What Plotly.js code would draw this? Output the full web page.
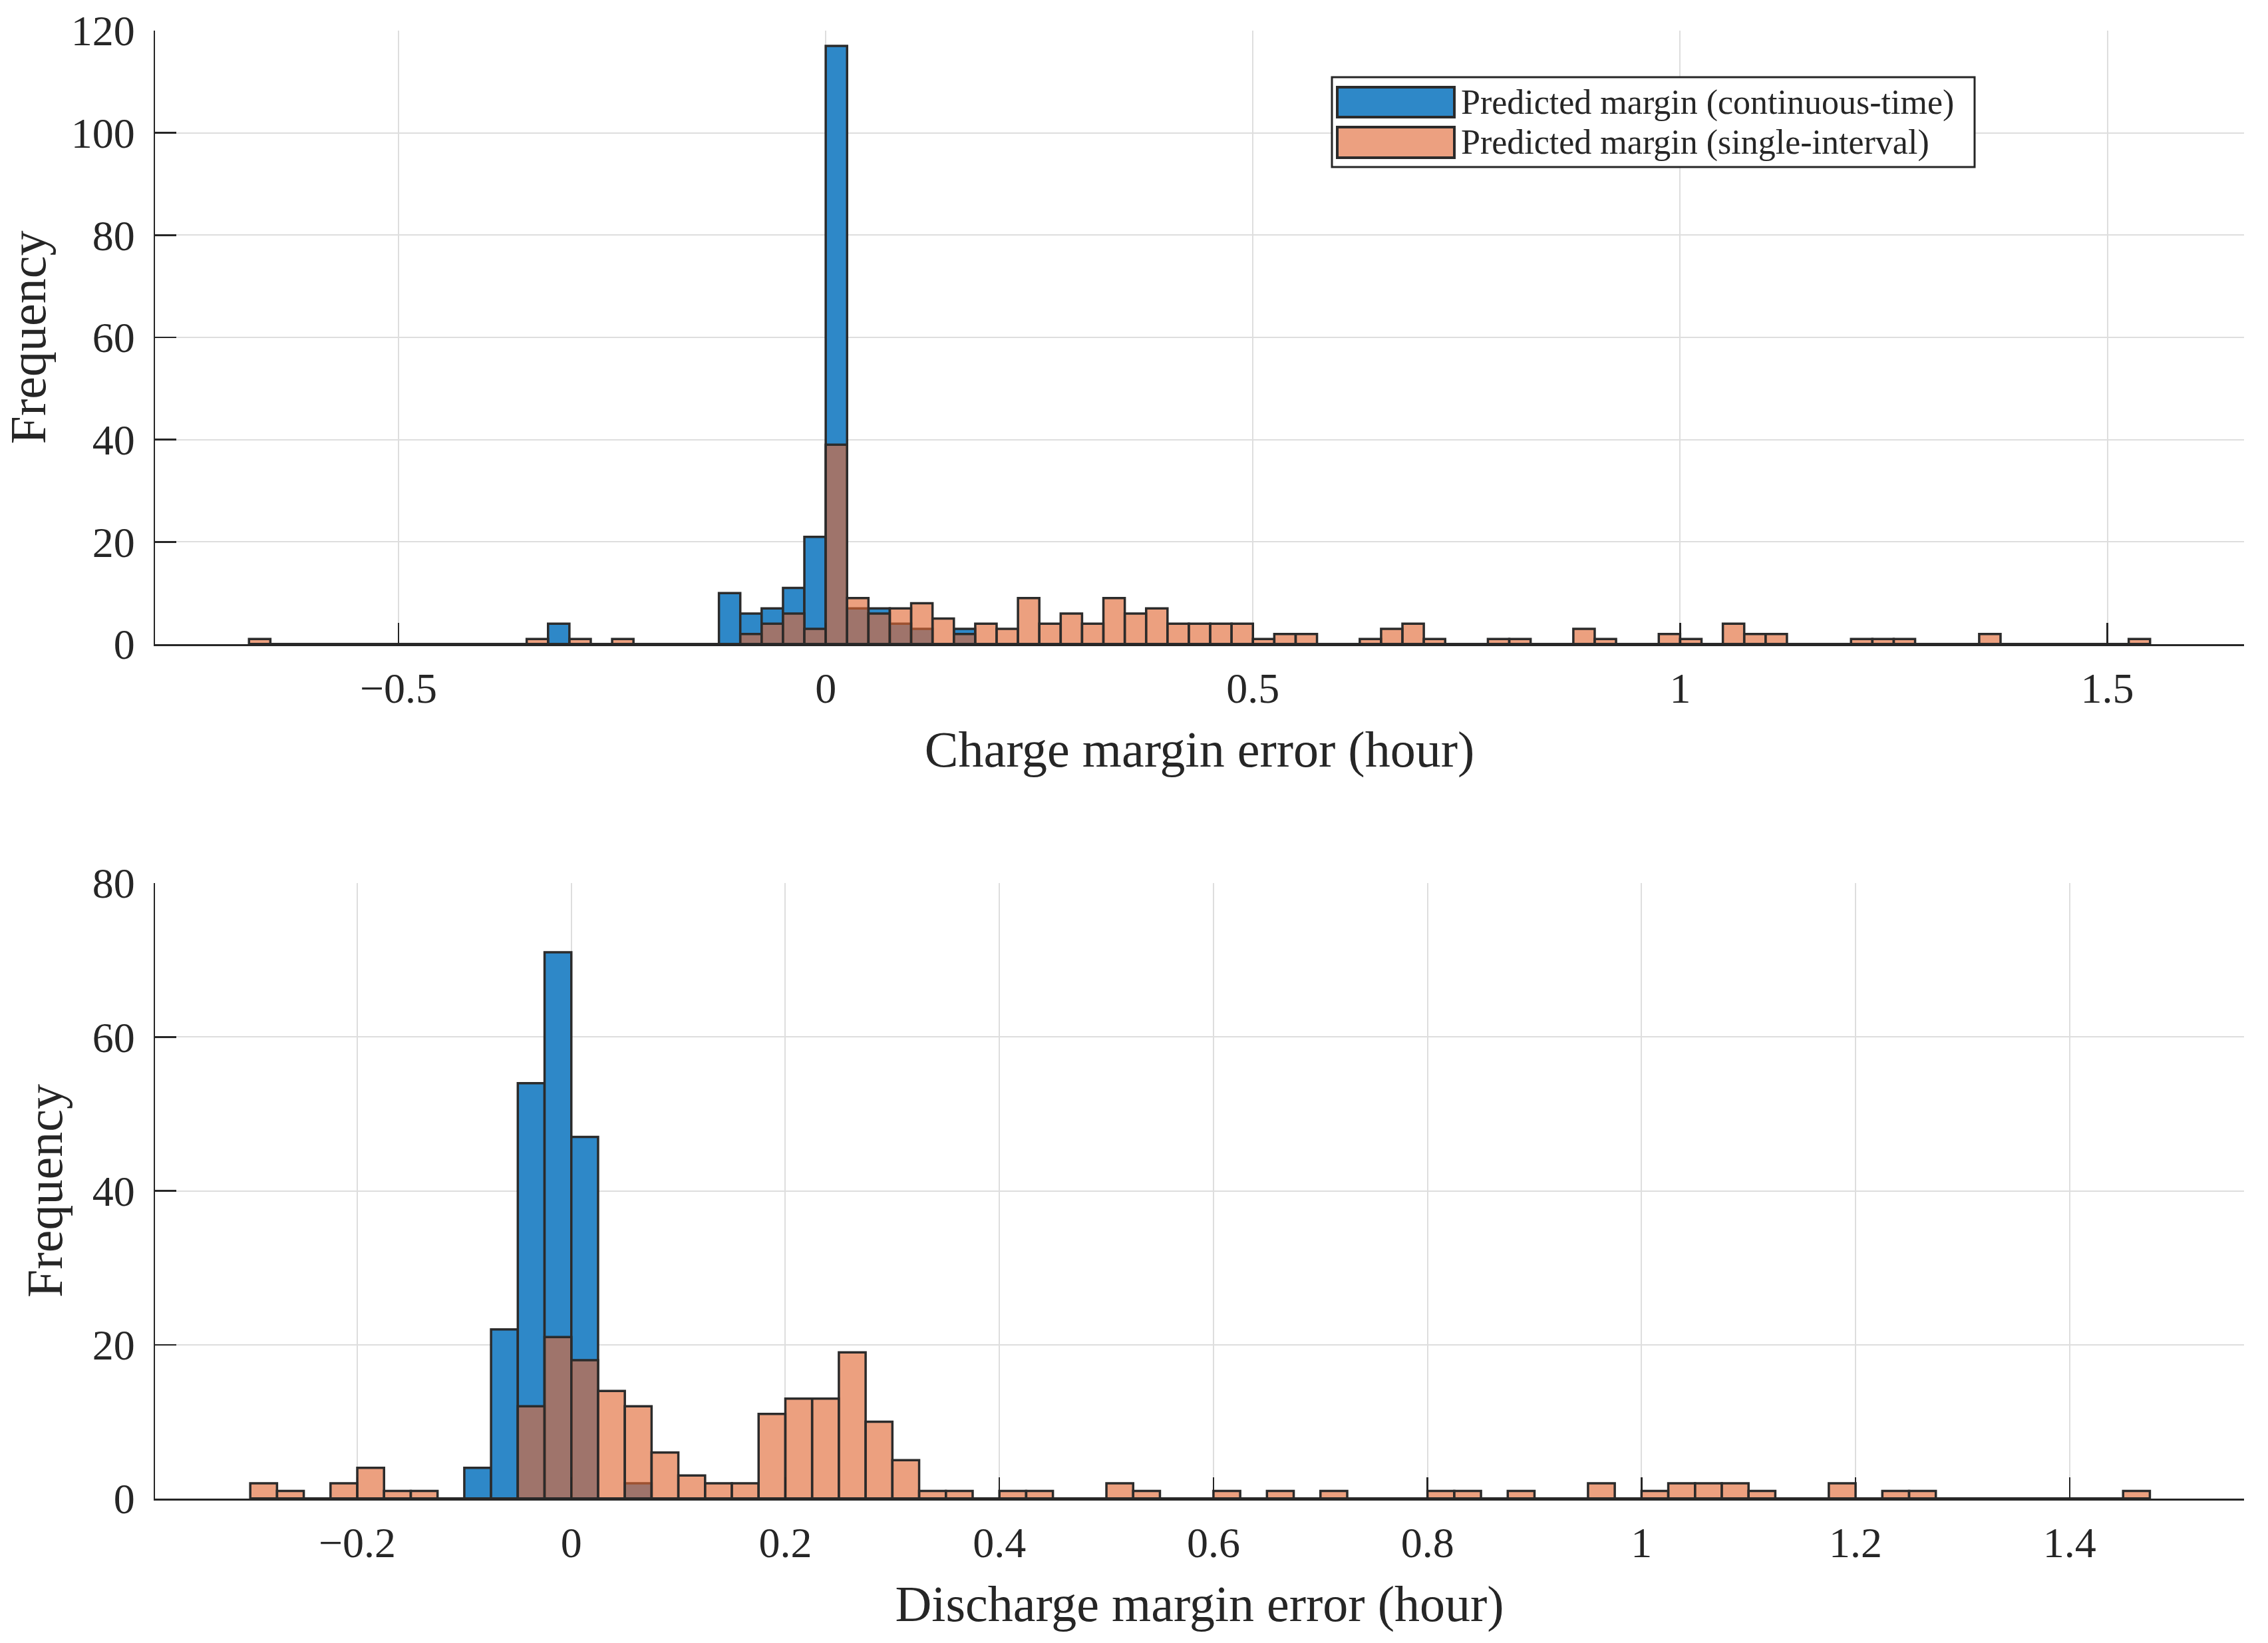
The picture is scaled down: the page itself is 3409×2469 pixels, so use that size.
<!DOCTYPE html>
<html>
<head>
<meta charset="utf-8">
<script src="https://cdn.plot.ly/plotly-3.0.1.min.js"></script>
<style>html,body{margin:0;padding:0;background:#fff;}#chart{width:3409px;height:2469px;}</style>
</head>
<body>
<div id="chart"></div>
<script>
// ---------------- DATA (bin centres, bin width 0.025 h) ----------------
const binWidth = 0.025;
const seriesNames = ["Predicted margin (continuous-time)", "Predicted margin (single-interval)"];

// Charge margin error histogram
const chargeCT_x = [-0.3125, -0.1125, -0.0875, -0.0625, -0.0375, -0.0125, 0.0125, 0.0375, 0.0625, 0.0875, 0.1125, 0.1625];
const chargeCT_y = [4, 10, 6, 7, 11, 21, 117, 7, 7, 4, 3, 3];
const chargeSI_x = [-0.6625, -0.3375, -0.2875, -0.2375, -0.0875, -0.0625, -0.0375, -0.0125, 0.0125, 0.0375, 0.0625, 0.0875,
  0.1125, 0.1375, 0.1625, 0.1875, 0.2125, 0.2375, 0.2625, 0.2875, 0.3125, 0.3375, 0.3625, 0.3875, 0.4125, 0.4375, 0.4625,
  0.4875, 0.5125, 0.5375, 0.5625, 0.6375, 0.6625, 0.6875, 0.7125, 0.7875, 0.8125, 0.8875, 0.9125, 0.9875, 1.0125, 1.0625,
  1.0875, 1.1125, 1.2125, 1.2375, 1.2625, 1.3625, 1.5375];
const chargeSI_y = [1, 1, 1, 1, 2, 4, 6, 3, 39, 9, 6, 7,
  8, 5, 2, 4, 3, 9, 4, 6, 4, 9, 6, 7, 4, 4, 4,
  4, 1, 2, 2, 1, 3, 4, 1, 1, 1, 3, 1, 2, 1, 4,
  2, 2, 1, 1, 1, 2, 1];

// Discharge margin error histogram
const dischargeCT_x = [-0.0875, -0.0625, -0.0375, -0.0125, 0.0125, 0.0625];
const dischargeCT_y = [4, 22, 54, 71, 47, 2];
const dischargeSI_x = [-0.2875, -0.2625, -0.2125, -0.1875, -0.1625, -0.1375, -0.0375, -0.0125, 0.0125, 0.0375, 0.0625,
  0.0875, 0.1125, 0.1375, 0.1625, 0.1875, 0.2125, 0.2375, 0.2625, 0.2875, 0.3125, 0.3375, 0.3625, 0.4125, 0.4375,
  0.5125, 0.5375, 0.6125, 0.6625, 0.7125, 0.8125, 0.8375, 0.8875, 0.9625, 1.0125, 1.0375, 1.0625, 1.0875, 1.1125,
  1.1875, 1.2375, 1.2625, 1.4625];
const dischargeSI_y = [2, 1, 2, 4, 1, 1, 12, 21, 18, 14, 12,
  6, 3, 2, 2, 11, 13, 13, 19, 10, 5, 1, 1, 1, 1,
  2, 1, 1, 1, 1, 1, 1, 1, 2, 1, 2, 2, 2, 1,
  2, 1, 1, 1];

const xTitles = ["Charge margin error (hour)", "Discharge margin error (hour)"];
const yTitle = "Frequency";
const topYTicks = [0, 20, 40, 60, 80, 100, 120];
const botYTicks = [0, 20, 40, 60, 80];
const topXTicks = [-0.5, 0, 0.5, 1, 1.5];
const botXTicks = [-0.2, 0, 0.2, 0.4, 0.6, 0.8, 1, 1.2, 1.4];

// ---------------- STYLE ----------------
const FONT = '"Liberation Serif", "Times New Roman", Times, serif';
const TXT = '#262626';
const EDGE = '#2b2b2b';
const BLUE = 'rgb(46,136,200)';
const ORANGE = 'rgba(225,104,53,0.63)';
const W = 3409, H = 2469;
const L = 233, R = 3373, T = 46, B = 2252;
const px = v => (v - L) / (R - L);
const py = v => (B - v) / (B - T);

function bars(x, y, color, xa, ya, name) {
  return {type: 'bar', x: x, y: y, width: binWidth, name: name, xaxis: xa, yaxis: ya,
    marker: {color: color, line: {color: EDGE, width: 3.5}}, hoverinfo: 'x+y', showlegend: false};
}
function baseline(xs, xa, ya) {
  const lo = Math.min(...xs) - binWidth / 2, hi = Math.max(...xs) + binWidth / 2;
  return {type: 'scatter', mode: 'lines', x: [lo, hi], y: [0, 0], xaxis: xa, yaxis: ya,
    line: {color: EDGE, width: 4}, hoverinfo: 'skip', showlegend: false, cliponaxis: false};
}

const data = [
  baseline(chargeCT_x.concat(chargeSI_x), 'x', 'y'),
  bars(chargeCT_x, chargeCT_y, BLUE, 'x', 'y', seriesNames[0]),
  bars(chargeSI_x, chargeSI_y, ORANGE, 'x', 'y', seriesNames[1]),
  baseline(dischargeCT_x.concat(dischargeSI_x), 'x2', 'y2'),
  bars(dischargeCT_x, dischargeCT_y, BLUE, 'x2', 'y2', seriesNames[0]),
  bars(dischargeSI_x, dischargeSI_y, ORANGE, 'x2', 'y2', seriesNames[1])
];

function xaxis(range, ticks, title, anchor, standoff) {
  return {range: range, tickmode: 'array', tickvals: ticks, anchor: anchor,
    showgrid: true, gridcolor: '#dedede', gridwidth: 2, zeroline: false,
    showline: true, linecolor: TXT, linewidth: 2.5, mirror: false,
    ticks: 'inside', ticklen: 32, tickwidth: 2.5, tickcolor: TXT,
    ticklabelstandoff: 9,
    tickfont: {family: FONT, size: 64, color: TXT},
    title: {text: title, font: {family: FONT, size: 76, color: TXT}, standoff: standoff}};
}
function yaxis(range, ticks, domain, anchor) {
  return {range: range, tickmode: 'array', tickvals: ticks, domain: domain, anchor: anchor,
    showgrid: true, gridcolor: '#dedede', gridwidth: 2, zeroline: false,
    showline: true, linecolor: TXT, linewidth: 2.5,
    ticks: 'inside', ticklen: 32, tickwidth: 2.5, tickcolor: TXT,
    ticklabelstandoff: 15,
    tickfont: {family: FONT, size: 64, color: TXT},
    title: {text: yTitle, font: {family: FONT, size: 76, color: TXT}, standoff: 20}};
}

// Legend drawn as shapes + text (MATLAB-style wide swatches)
const legBox = {x0: 2002, x1: 2968, y0: 116, y1: 251};
const sw = [{y0: 131, y1: 176, c: BLUE}, {y0: 191, y1: 237, c: 'rgb(236,160,128)'}];
const shapes = [{type: 'rect', xref: 'paper', yref: 'paper', x0: px(legBox.x0), x1: px(legBox.x1), y0: py(legBox.y1), y1: py(legBox.y0),
  fillcolor: '#ffffff', line: {color: TXT, width: 3}, layer: 'above'}];
const annotations = [];
sw.forEach((s, i) => {
  shapes.push({type: 'rect', xref: 'paper', yref: 'paper', x0: px(legBox.x0 + 8), x1: px(legBox.x0 + 184), y0: py(s.y1), y1: py(s.y0),
    fillcolor: s.c, line: {color: EDGE, width: 4}, layer: 'above'});
  annotations.push({xref: 'paper', yref: 'paper', x: px(legBox.x0 + 192), y: py((s.y0 + s.y1) / 2), xanchor: 'left', yanchor: 'middle',
    text: seriesNames[i], showarrow: false, font: {family: FONT, size: 52, color: TXT}});
});

const layout = {
  width: W, height: H,
  margin: {l: L, r: W - R, t: T, b: H - B, pad: 0},
  paper_bgcolor: '#ffffff', plot_bgcolor: '#ffffff',
  barmode: 'overlay', bargap: 0,
  showlegend: false,
  font: {family: FONT, color: TXT},
  xaxis: xaxis([-0.785, 1.660], topXTicks, xTitles[0], 'y', 30),
  yaxis: yaxis([0, 120], topYTicks, [py(968), 1], 'x'),
  xaxis2: xaxis([-0.389, 1.563], botXTicks, xTitles[1], 'y2', 30),
  yaxis2: yaxis([0, 80], botYTicks, [0, py(1327)], 'x2'),
  shapes: shapes,
  annotations: annotations
};

Plotly.newPlot('chart', data, layout, {staticPlot: true, displayModeBar: false});
</script>
</body>
</html>
